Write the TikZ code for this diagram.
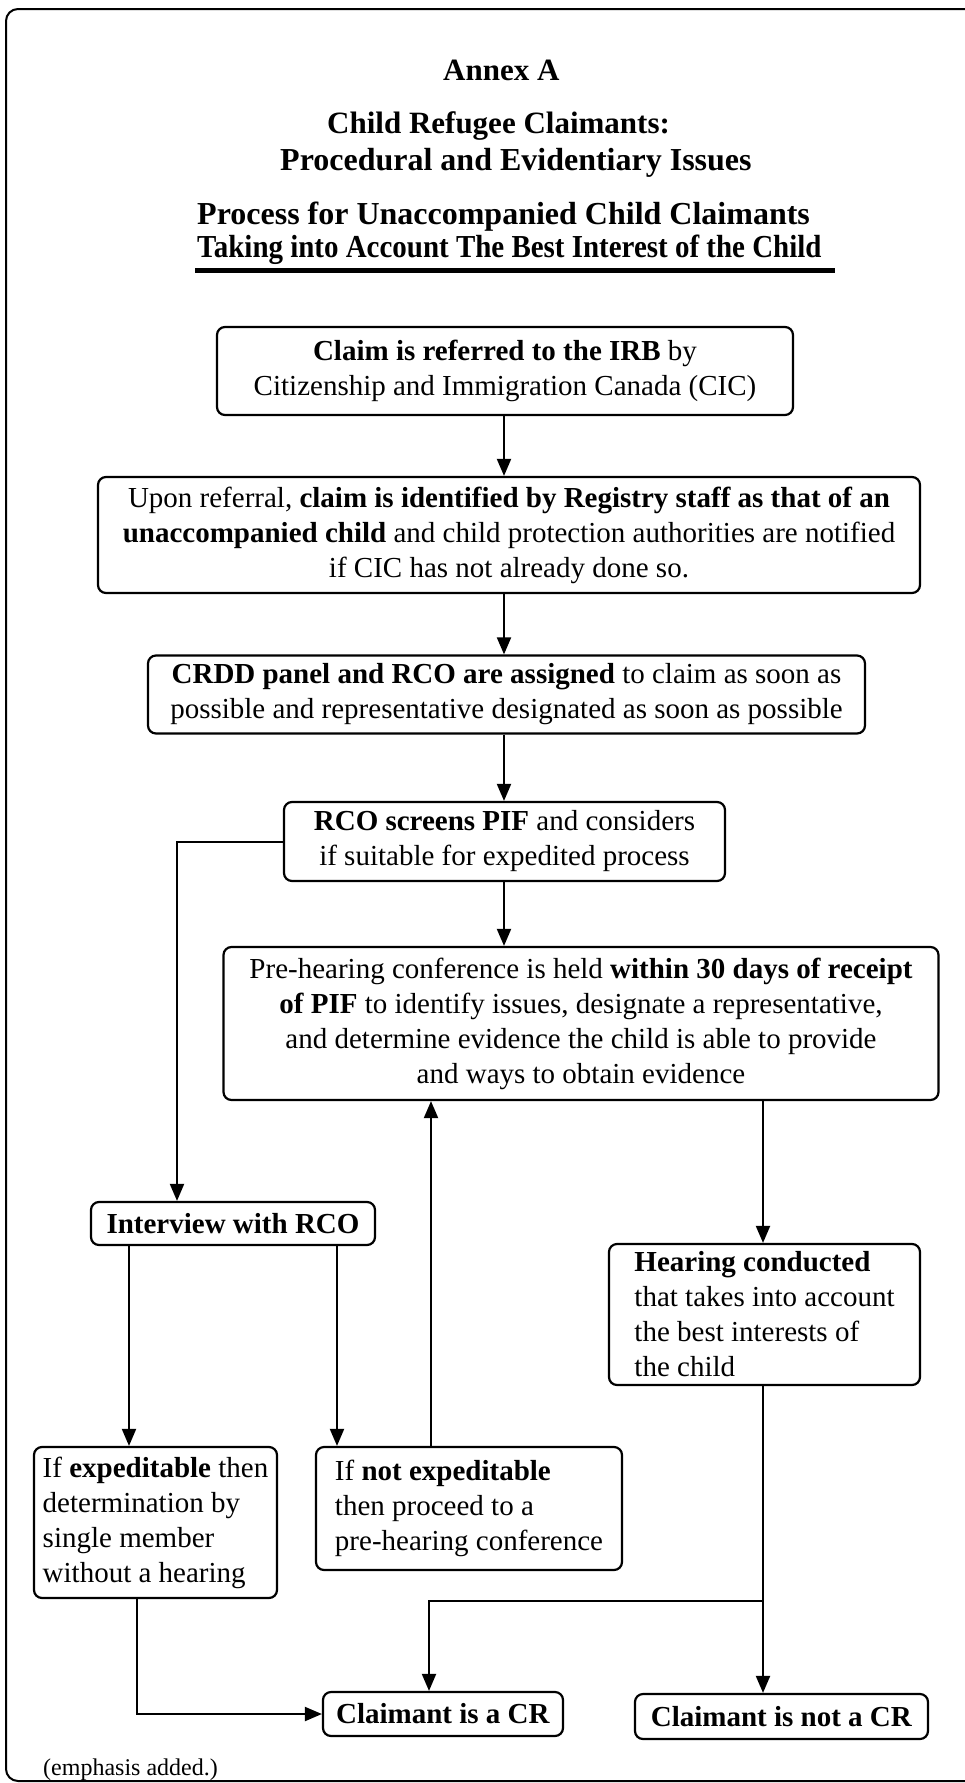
\documentclass[tikz,border=0pt]{standalone}
\usepackage{fontspec}
\setmainfont{Liberation Serif}
\usetikzlibrary{arrows.meta}
\newcommand{\myBodyFont}{\fontsize{29}{35}\selectfont}
\newcommand{\myTitleFont}{\fontsize{31}{37}\selectfont\bfseries}
\newcommand{\myBigTitleFont}{\fontsize{32}{38}\selectfont\bfseries}
\begin{document}
\begin{tikzpicture}[x=1pt,y=-1pt,
  box/.style={draw, line width=2.2pt, rounded corners=8pt, inner sep=0pt, align=center, font=\myBodyFont},
  lbox/.style={box, align=left},
  arr/.style={line width=2pt, -{Triangle[length=17pt,width=14pt]}},
  ttl/.style={anchor=base west, inner sep=0pt, font=\myTitleFont},
  bttl/.style={ttl, font=\myBigTitleFont},
  note/.style={anchor=base west, inner sep=0pt, font=\fontsize{24}{28}\selectfont}]
\useasboundingbox (0,0) rectangle (965,1783);
\draw[line width=2pt, rounded corners=12pt] (6,9) rectangle (990,1781);

% titles
\node[ttl] (t1) at (443,80) {Annex A};
\node[ttl] (t2) at (327,133) {Child Refugee Claimants:};
\node[bttl] (t3) at (280,170) {Procedural and Evidentiary Issues};
\node[bttl] (t4) at (197,224) {Process for Unaccompanied Child Claimants};
\node[bttl] (t5) at (197,257) {\scalebox{0.905}[1]{Taking into Account The Best Interest of the Child}};
\draw[line width=5pt] ([shift={(-2,13)}]t5.base west) -- ([shift={(13,13)}]t5.base east);

% boxes
\node[box, minimum width=576, minimum height=88] (b1) at (505,371)
  {\textbf{Claim is referred to the IRB} by\\Citizenship and Immigration Canada (CIC)};
\node[box, minimum width=822, minimum height=116] (b2) at (509,535)
  {Upon referral, \textbf{claim is identified by Registry staff as that of an}\\\textbf{unaccompanied child} and child protection authorities are notified\\if CIC has not already done so.};
\node[box, minimum width=717, minimum height=78] (b3) at (506.5,694.5)
  {\textbf{CRDD panel and RCO are assigned} to claim as soon as\\possible and representative designated as soon as possible};
\node[box, minimum width=441, minimum height=79] (b4) at (504.5,841.5)
  {\textbf{RCO screens PIF} and considers\\if suitable for expedited process};
\node[box, minimum width=715, minimum height=153] (b5) at (581,1023.5)
  {Pre-hearing conference is held \textbf{within 30 days of receipt}\\\textbf{of PIF} to identify issues, designate a representative,\\and determine evidence the child is able to provide\\and ways to obtain evidence};
\node[box, minimum width=284, minimum height=43] (b6) at (233,1223.5)
  {\textbf{Interview with RCO}};
\node[lbox, minimum width=243, minimum height=151] (b7) at (155.5,1522.5)
  {If \textbf{expeditable} then\\determination by\\single member\\without a hearing};
\node[lbox, minimum width=306, minimum height=123] (b8) at (469,1508.5)
  {If \textbf{not expeditable}\\then proceed to a\\pre-hearing conference};
\node[lbox, minimum width=311, minimum height=141] (b9) at (764.5,1314.5)
  {\textbf{Hearing conducted}\\that takes into account\\the best interests of\\the child};
\node[box, minimum width=240, minimum height=44] (b10) at (443,1714)
  {\textbf{Claimant is a CR}};
\node[box, minimum width=293, minimum height=45] (b11) at (781.5,1716.5)
  {\textbf{Claimant is not a CR}};
\node[note] (n1) at (43,1775) {(emphasis added.)};

% guide coordinates
\coordinate (ax) at (504,0);
\coordinate (lx) at (177,0);
\coordinate (ix1) at (129,0);
\coordinate (ix2) at (337,0);
\coordinate (ux) at (431,0);
\coordinate (hx) at (763,0);
\coordinate (ex) at (137,0);
\coordinate (cx) at (429,0);
\coordinate (by) at (0,1601);

% connectors
\draw[arr] (ax |- b1.south) -- (ax |- b2.north);
\draw[arr] (ax |- b2.south) -- (ax |- b3.north);
\draw[arr] (ax |- b3.south) -- (ax |- b4.north);
\draw[arr] (ax |- b4.south) -- (ax |- b5.north);
\draw[arr] (b4.west) -- (lx |- b4.west) -- (lx |- b6.north);
\draw[arr] (ix1 |- b6.south) -- (ix1 |- b7.north);
\draw[arr] (ix2 |- b6.south) -- (ix2 |- b8.north);
\draw[arr] (ux |- b8.north) -- (ux |- b5.south);
\draw[arr] (hx |- b5.south) -- (hx |- b9.north);
\draw[arr] (hx |- b9.south) -- (hx |- b11.north);
\draw[arr] (hx |- by) -- (cx |- by) -- (cx |- b10.north);
\draw[arr] (ex |- b7.south) -- (ex |- b10.west) -- (b10.west);
\end{tikzpicture}
\end{document}
